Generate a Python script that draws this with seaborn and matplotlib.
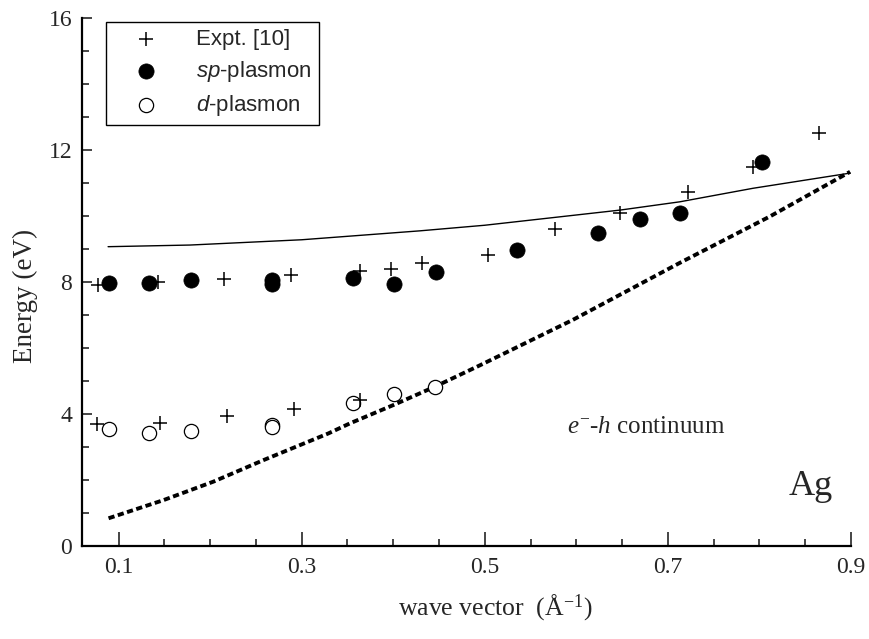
import matplotlib
matplotlib.use("Agg")
import matplotlib.pyplot as plt
import seaborn as sns
import pandas as pd
from matplotlib.ticker import MultipleLocator, FixedLocator

# ---- data ----
expt_q = [0.077, 0.1428, 0.2152, 0.2884, 0.3638, 0.3976, 0.4311, 0.504, 0.5767,
          0.6477, 0.7223, 0.7927, 0.8655,
          0.0768, 0.1453, 0.2188, 0.292, 0.3638]
expt_E = [7.91, 8.01, 8.08, 8.21, 8.34, 8.38, 8.57, 8.82, 9.6,
          10.08, 10.74, 11.47, 12.52,
          3.69, 3.74, 3.94, 4.14, 4.42]

sp_q = [0.090, 0.1336, 0.179, 0.268, 0.268, 0.3565, 0.401, 0.4464, 0.535,
        0.624, 0.669, 0.713, 0.8025]
sp_E = [7.98, 7.98, 8.06, 8.05, 7.93, 8.13, 7.93, 8.31, 8.97,
        9.47, 9.91, 10.08, 11.63]

d_q = [0.0896, 0.1336, 0.179, 0.268, 0.268, 0.3565, 0.401, 0.4457]
d_E = [3.54, 3.41, 3.48, 3.68, 3.61, 4.32, 4.61, 4.81]

theory_q = [0.0885, 0.178, 0.3, 0.429, 0.5, 0.648, 0.713, 0.793, 0.899]
theory_E = [9.07, 9.12, 9.28, 9.55, 9.72, 10.18, 10.43, 10.84, 11.3]

eh_q = [0.089, 0.149, 0.2035, 0.258, 0.329, 0.353, 0.40, 0.4457, 0.495,
        0.596, 0.713, 0.811, 0.899]
eh_E = [0.84, 1.39, 1.95, 2.6, 3.41, 3.72, 4.27, 4.83, 5.48,
        6.85, 8.58, 9.98, 11.34]

x_major = [0.1, 0.3, 0.5, 0.7, 0.9]
x_labels = ["0.1", "0.3", "0.5", "0.7", "0.9"]
y_major = [0, 4, 8, 12, 16]

legend_labels = ["Expt. [10]", "$\\mathsf{sp}$-plasmon", "$\\mathsf{d}$-plasmon"]

# ---- style ----
sns.set_style("ticks")
plt.rcParams["font.family"] = ["Liberation Serif", "DejaVu Serif"]
plt.rcParams["mathtext.fontset"] = "custom"
plt.rcParams["mathtext.rm"] = "Liberation Serif"
plt.rcParams["mathtext.it"] = "Liberation Serif:italic"
plt.rcParams["mathtext.sf"] = "Liberation Sans:italic"

fig = plt.figure(figsize=(8.7, 6.39), dpi=100)
ax = fig.add_axes([82 / 870, 93 / 639, (851 - 82) / 870, (621 - 93) / 639])

df_th = pd.DataFrame({"q": theory_q, "E": theory_E})
df_eh = pd.DataFrame({"q": eh_q, "E": eh_E})
sns.lineplot(data=df_th, x="q", y="E", ax=ax, color="black", lw=1.0,
             sort=False, estimator=None)
sns.lineplot(data=df_eh, x="q", y="E", ax=ax, color="black", lw=2.8,
             sort=False, estimator=None, dashes=False)
ax.lines[-1].set_dashes((1.6, 0.9))

df_ex = pd.DataFrame({"q": expt_q, "E": expt_E})
df_sp = pd.DataFrame({"q": sp_q, "E": sp_E})
df_d = pd.DataFrame({"q": d_q, "E": d_E})
sns.scatterplot(data=df_ex, x="q", y="E", ax=ax, marker="+", s=110,
                color="black", linewidth=1.1, label=legend_labels[0], zorder=5)
sns.scatterplot(data=df_sp, x="q", y="E", ax=ax, marker="o", s=120,
                color="black", edgecolor="black", linewidth=0.5,
                label=legend_labels[1], zorder=4)
sns.scatterplot(data=df_d, x="q", y="E", ax=ax, marker="o", s=105,
                facecolor="white", edgecolor="black", linewidth=0.9,
                label=legend_labels[2], zorder=4)

ax.set_xlim(0.06, 0.9)
ax.set_ylim(0, 16)
ax.xaxis.set_major_locator(FixedLocator(x_major))
ax.set_xticklabels(x_labels)
ax.xaxis.set_minor_locator(MultipleLocator(0.05))
ax.yaxis.set_major_locator(FixedLocator(y_major))
ax.yaxis.set_minor_locator(MultipleLocator(1))

ax.tick_params(axis="x", which="major", direction="in", length=10, width=1.2,
               labelsize=17, pad=8)
ax.tick_params(axis="x", which="minor", direction="in", length=5, width=1.2)
ax.tick_params(axis="y", which="major", direction="in", length=7, width=1.2,
               labelsize=17, pad=7)
ax.tick_params(axis="y", which="minor", direction="in", length=5, width=1.2)

for side in ["top", "right"]:
    ax.spines[side].set_visible(False)
for side in ["left", "bottom"]:
    ax.spines[side].set_linewidth(1.6)
    ax.spines[side].set_color("black")

ax.set_xlabel("wave vector  (Å$^{\\mathrm{-1}}$)", fontsize=18.5)
ax.xaxis.set_label_coords((495 - 82) / 769, -0.088)
ax.set_ylabel("Energy (eV)", fontsize=19.5)
ax.yaxis.set_label_coords(-0.057, (546 - 296) / 528)

ax.text(0.5895, 3.41, "$e^{-}$-$h$ continuum", fontsize=18)
ax.text(0.832, 1.55, "Ag", fontsize=26)

leg = ax.legend(loc="upper left", bbox_to_anchor=(24 / 769, 1 - 3.7 / 528),
                borderaxespad=0, frameon=True, fancybox=False,
                edgecolor="black", framealpha=1,
                prop={"family": "Liberation Sans", "size": 16},
                handlelength=3.0, handletextpad=0.75, labelspacing=0.4,
                borderpad=0.32)
leg.get_frame().set_linewidth(1.0)

fig.savefig("out.png", dpi=100)
